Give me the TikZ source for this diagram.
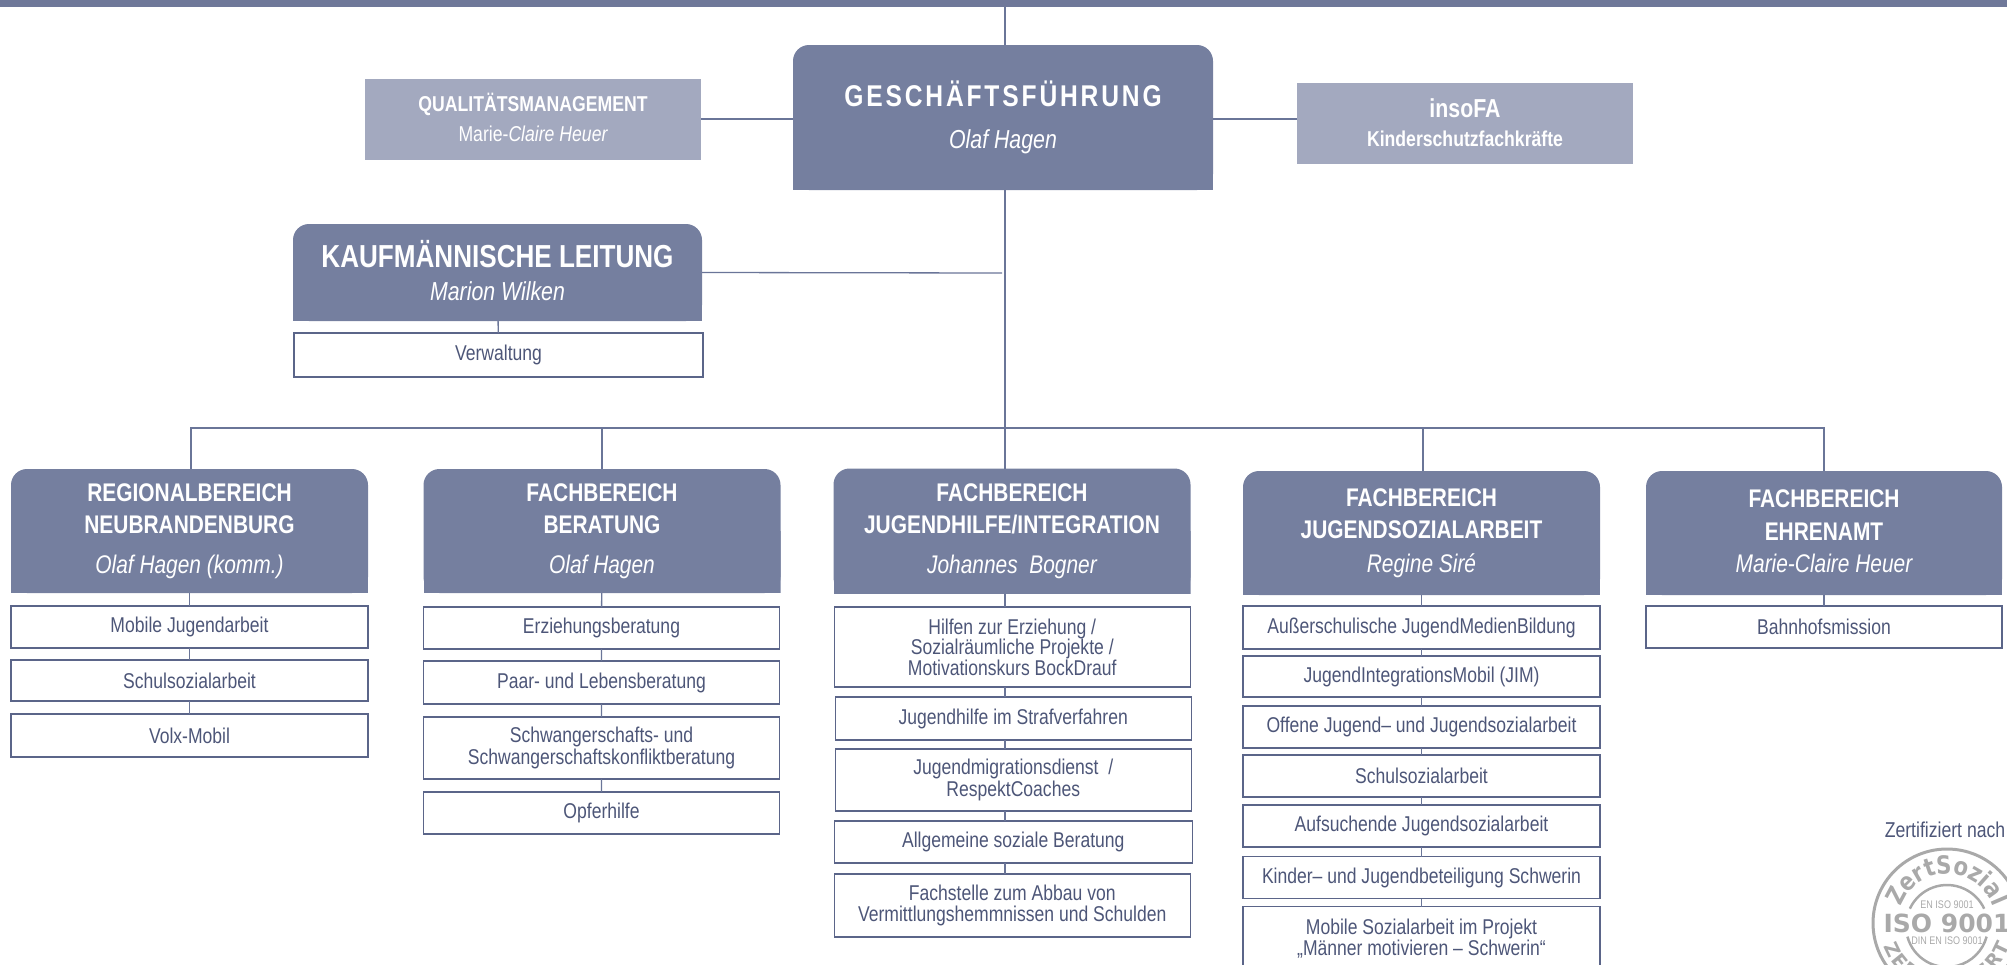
\documentclass[tikz,border=0pt]{standalone}
\usepackage{fontspec}
\setmainfont[FakeStretch=0.82]{Liberation Sans}
\newfontfamily\gfwide[LetterSpace=9.5,FakeStretch=0.82]{Liberation Sans}
\newfontfamily\stampfont{DejaVu Sans}
\newfontfamily\stampnarrow[FakeStretch=0.85]{DejaVu Sans}
\usetikzlibrary{decorations.text}

\definecolor{headfill}{HTML}{757F9F}
\definecolor{barfill}{HTML}{6F7899}
\definecolor{lightfill}{HTML}{A3A9BF}
\definecolor{linecol}{HTML}{6A7598}
\definecolor{boxcol}{HTML}{5B6589}
\definecolor{textcol}{HTML}{4D5678}
\definecolor{stampcol}{HTML}{A9A9A9}

\newcommand{\fsize}[1]{\fontsize{#1}{#1}\selectfont}

\tikzset{
  headbox/.style={inner sep=0pt, outer sep=0pt, align=center, text=white,
    minimum width=357pt, minimum height=124pt, font=\fsize{25.5}\bfseries,
    path picture={
      \fill[headfill, rounded corners=16pt] (path picture bounding box.north west) rectangle (path picture bounding box.south east);
      \fill[headfill] (path picture bounding box.west) rectangle (path picture bounding box.south east);
    }},
  subbox/.style={draw=boxcol, line width=1.1pt, fill=white, inner sep=0pt, outer sep=0pt, align=center,
    text=textcol, minimum width=356pt, minimum height=42pt, font=\fsize{21.4}},
  staffbox/.style={fill=lightfill, inner sep=0pt, outer sep=0pt, align=center, text=white,
    minimum width=336pt, minimum height=81pt},
  conn/.style={draw=linecol, line width=1.3pt}
}

\begin{document}
\begin{tikzpicture}[x=1pt,y=-1pt]
    \clip (0,0) rectangle (2007,964);
    \fill[barfill] (0,0) rectangle (2007,7);
    \coordinate (top) at (1005,7);
    \coordinate (trunk) at (1005,428);
    \coordinate (klend) at (1002,273);

    \node[headbox, minimum width=420pt, minimum height=145pt] (gf) at (1003,117.5) {{\gfwide\fsize{30}\bfseries GESCHÄFTSFÜHRUNG}\\[17pt]{\fsize{26}\mdseries\itshape Olaf Hagen}};
    \node[staffbox, text depth=4pt] (qm) at (533,119.5) {{\fsize{21.5}\bfseries QUALITÄTSMANAGEMENT}\\[9.2pt]{\fsize{21.5}Marie-\itshape Claire Heuer}};
    \node[staffbox, text depth=2.6pt] (ins) at (1465,123.5) {{\fsize{26}\bfseries insoFA}\\[12pt]{\fsize{21.5}\bfseries Kinderschutzfachkräfte}};

    \node[headbox, minimum width=409pt, minimum height=97pt, text depth=4pt] (kl) at (497.5,272.5) {{\fsize{31.8}\bfseries KAUFMÄNNISCHE LEITUNG}\\[7pt]{\fsize{26}\mdseries\itshape Marion Wilken}};
    \node[subbox, minimum width=409pt, minimum height=44pt] (vw) at (498.5,355) {Verwaltung};

    % regionalbereich
    \node[headbox] (rb) at (189.5,531) {REGIONALBEREICH\\[6.5pt]NEUBRANDENBURG\\[14pt]{\mdseries\itshape Olaf Hagen (komm.)}};
    \node[subbox, minimum width=357pt] (mj) at (189.5,627) {Mobile Jugendarbeit};
    \node[subbox, minimum width=357pt, minimum height=41pt] (ss) at (189.5,680.5) {Schulsozialarbeit};
    \node[subbox, minimum width=357pt, minimum height=43pt] (vm) at (189.5,735.5) {Volx-Mobil};

    % beratung
    \node[headbox] (bt) at (602,531) {FACHBEREICH\\[6.5pt]BERATUNG\\[14pt]{\mdseries\itshape Olaf Hagen}};
    \node[subbox] (eb) at (601.5,628) {Erziehungsberatung};
    \node[subbox, minimum height=43pt] (pl) at (601.5,682.5) {Paar- und Lebensberatung};
    \node[subbox, minimum height=62pt] (sk) at (601.5,748) {Schwangerschafts- und\\[1pt]Schwangerschaftskonfliktberatung};
    \node[subbox] (oh) at (601.5,813) {Opferhilfe};

    % jugendhilfe
    \node[headbox, minimum height=125pt] (jh) at (1012,531) {FACHBEREICH\\[6.5pt]JUGENDHILFE/INTEGRATION\\[14pt]{\mdseries\itshape Johannes\ \ Bogner}};
    \node[subbox, minimum height=80pt] (hz) at (1012.25,647) {Hilfen zur Erziehung /\\[-1pt]Sozialräumliche Projekte /\\[-1pt]Motivationskurs BockDrauf};
    \node[subbox, minimum height=43pt] (st) at (1013.25,718.5) {Jugendhilfe im Strafverfahren};
    \node[subbox, minimum height=62pt] (mi) at (1013.25,780) {Jugendmigrationsdienst\ \ /\\RespektCoaches};
    \node[subbox, minimum width=358pt] (as) at (1013.25,842) {Allgemeine soziale Beratung};
    \node[subbox, minimum height=63pt] (fa) at (1012.25,905.5) {Fachstelle zum Abbau von\\Vermittlungshemmnissen und Schulden};

    % jugendsozialarbeit
    \node[headbox] (js) at (1421.5,533) {FACHBEREICH\\[6.5pt]JUGENDSOZIALARBEIT\\[8.5pt]{\mdseries\itshape Regine Siré}};
    \node[subbox, minimum width=357pt, minimum height=43pt] (ab) at (1421.5,627.5) {Außerschulische JugendMedienBildung};
    \node[subbox, minimum width=357pt, minimum height=41pt] (jm) at (1421.5,676.5) {JugendIntegrationsMobil (JIM)};
    \node[subbox, minimum width=357pt] (oj) at (1421.5,727) {Offene Jugend– und Jugendsozialarbeit};
    \node[subbox, minimum width=357pt] (sa) at (1421.5,776) {Schulsozialarbeit};
    \node[subbox, minimum width=357pt] (au) at (1421.5,826) {Aufsuchende Jugendsozialarbeit};
    \node[subbox, minimum width=357pt] (kj) at (1421.5,877.5) {Kinder– und Jugendbeteiligung Schwerin};
    \node[subbox, minimum width=357pt, minimum height=64pt] (mo) at (1421.5,938.5) {Mobile Sozialarbeit im Projekt\\„Männer motivieren – Schwerin“};

    % ehrenamt
    \node[headbox, minimum width=356pt, text depth=3.6pt] (eh) at (1824,533) {FACHBEREICH\\[7.5pt]EHRENAMT\\[6.5pt]{\mdseries\itshape Marie-Claire Heuer}};
    \node[subbox] (bm) at (1824,627) {Bahnhofsmission};

    \draw[conn] (top) -- (top |- gf.north);
    \draw[conn] (top |- gf.south) -- (top |- jh.north);
    \draw[conn] (qm.east |- 0,119) -- (gf.west |- 0,119);
    \draw[conn] (gf.east |- 0,119) -- (ins.west |- 0,119);
    \draw[conn] (kl.east) -- (klend);
    \draw[conn] (kl) -- (vw);
    \draw[conn] ([xshift=1.5pt]rb.north) |- (trunk) -| (eh.north);
    \draw[conn] (trunk -| bt.north) -- (bt.north);
    \draw[conn] (trunk -| 1423,0) -- (js.north -| 1423,0);

    \draw[conn] (rb) -- (mj) -- (ss) -- (vm);
    \draw[conn] (bt) -- (eb) -- (pl) -- (sk) -- (oh);
    \draw[conn] (js) -- (ab) -- (jm) -- (oj) -- (sa) -- (au) -- (kj) -- (mo);
    \draw[conn] (eh) -- (bm);
    \draw[conn] (jh.south -| trunk) -- (hz.north -| trunk);
    \draw[conn] (hz.south -| trunk) -- (st.north -| trunk);
    \draw[conn] (st.south -| trunk) -- (mi.north -| trunk);
    \draw[conn] (mi.south -| trunk) -- (as.north -| trunk);
    \draw[conn] (as.south -| trunk) -- (fa.north -| trunk);

    \node[inner sep=0pt, text=textcol, font=\fsize{21.5}] (zn) at (1945,830) {Zertifiziert nach};

    % stamp
    \coordinate (stamp) at (1947,923);
    \coordinate (stampin) at (1947,926);
    \draw[stampcol, line width=3pt] (stamp) circle[radius=74pt];
    \draw[stampcol, line width=2.5pt] ([shift={(155:41pt)}]stampin) arc[start angle=155, end angle=25, radius=41pt];
    \draw[stampcol, line width=2.5pt] ([shift={(195:41pt)}]stampin) arc[start angle=195, end angle=345, radius=41pt];
    \path[postaction={decorate}, decoration={text along path, text align=center, text={|\stampnarrow\fontsize{25}{25}\selectfont\bfseries\color{stampcol}|ZertSozial}}] ([shift={(175:49pt)}]stamp) arc[start angle=175, end angle=5, radius=49pt];
    \path[postaction={decorate}, decoration={text along path, text align={fit to path}, text={|\stampfont\fontsize{19}{19}\selectfont\bfseries\color{stampcol}|ZERTIFIZIERT}}] ([shift={(200:67pt)}]stamp) arc[start angle=200, end angle=340, radius=67pt];
    \node[inner sep=0pt, text=stampcol, font=\stampfont\fsize{25}\bfseries] (iso) at (stamp) {ISO 9001};
    \node[inner sep=0pt, text=stampcol, font=\fsize{11}] (en) at (1947,905) {EN ISO 9001};
    \node[inner sep=0pt, text=stampcol, font=\fsize{11}] (din) at (1947,941) {DIN EN ISO 9001};
\end{tikzpicture}
\end{document}
